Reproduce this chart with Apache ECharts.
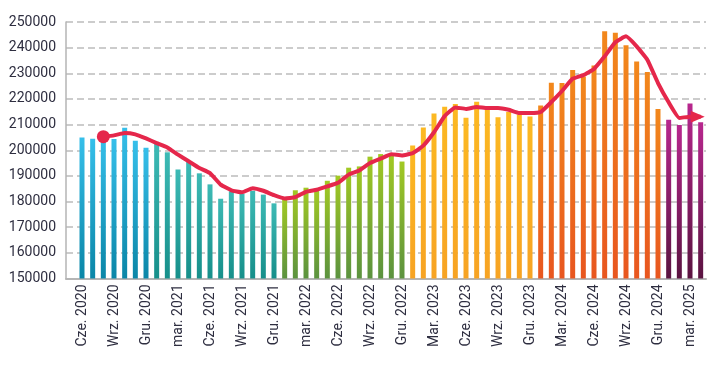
<!DOCTYPE html>
<html>
<head>
<meta charset="utf-8">
<script src="https://cdn.jsdelivr.net/npm/echarts@6/dist/echarts.min.js"></script>
<style>
  html, body { margin: 0; padding: 0; background: #fff; }
  #chart { width: 716px; height: 376px; }
</style>
</head>
<body>
<div id="chart"></div>
<script>
// miesiące: Cze. 2020 – Kwi. 2025 (pierwsza pusta kategoria to odstęp od osi)
var months = [
  "",
  "Cze. 2020", "Lip. 2020", "Sie. 2020", "Wrz. 2020", "Paź. 2020", "Lis. 2020", "Gru. 2020",
  "Sty. 2021", "Lut. 2021", "mar. 2021", "Kwi. 2021", "Maj. 2021", "Cze. 2021", "Lip. 2021",
  "Sie. 2021", "Wrz. 2021", "Paź. 2021", "Lis. 2021", "Gru. 2021",
  "Sty. 2022", "Lut. 2022", "mar. 2022", "Kwi. 2022", "Maj. 2022", "Cze. 2022", "Lip. 2022",
  "Sie. 2022", "Wrz. 2022", "Paź. 2022", "Lis. 2022", "Gru. 2022",
  "Sty. 2023", "Lut. 2023", "Mar. 2023", "Kwi. 2023", "Maj. 2023", "Cze. 2023", "Lip. 2023",
  "Sie. 2023", "Wrz. 2023", "Paź. 2023", "Lis. 2023", "Gru. 2023",
  "Sty. 2024", "Lut. 2024", "Mar. 2024", "Kwi. 2024", "Maj. 2024", "Cze. 2024", "Lip. 2024",
  "Sie. 2024", "Wrz. 2024", "Paź. 2024", "Lis. 2024", "Gru. 2024",
  "Sty. 2025", "Lut. 2025", "mar. 2025", "Kwi. 2025"
];

var monthly = [
  null,
  205000, 204500, 205000, 204400, 208800, 203700, 201000,
  202400, 199200, 192500, 195500, 191000, 186700, 181100,
  184000, 183000, 184200, 182700, 179300,
  181000, 184400, 185400, 184600, 188100, 190100, 193200,
  193700, 197500, 198500, 198100, 195600,
  201900, 208900, 214300, 217000, 218000, 212700, 218900,
  217100, 212900, 214900, 213900, 213200,
  217400, 226300, 226200, 231300, 228800, 233000, 246400,
  245800, 240900, 234600, 230500, 216100,
  211900, 209800, 218200, 210900
];

var trend = [
  null,
  null, null, 205300, 205800, 206700, 206200, 204600,
  202800, 201100, 198300, 195700, 193100, 191100, 186600,
  184400, 183600, 185200, 184200, 182500,
  181200, 181700, 183800, 184600, 185900, 187300, 190500,
  192100, 195000, 196700, 198400, 198000,
  198900, 201800, 207000, 213300, 216700, 216100, 216900,
  216500, 216500, 215800, 214500, 214500,
  214900, 218800, 223100, 227900, 229300, 231700, 236600,
  242100, 244400, 240500, 235300, 226200,
  218700, 212600, 213100, 213100
];

var yMin = 150000, yMax = 250000, yStep = 10000;

var yearColors = {
  "2020": ["#36bfea", "#0a86a7"],
  "2021": ["#3dbab5", "#168f8a"],
  "2022": ["#a2c923", "#5b923f"],
  "2023": ["#fcb922", "#f7a323"],
  "2024": ["#f2881c", "#e8561f"],
  "2025": ["#b8278e", "#5a1340"]
};

function barColor(label) {
  var c = yearColors[label.slice(-4)] || ["#ccc", "#ccc"];
  return new echarts.graphic.LinearGradient(0, 0, 0, 1, [
    { offset: 0, color: c[0] },
    { offset: 1, color: c[1] }
  ]);
}

var barData = monthly.map(function (v, i) {
  if (v == null) return null;
  return { value: v, itemStyle: { color: barColor(months[i]) } };
});

var firstIdx = trend.findIndex(function (v) { return v != null; });
var lastIdx = trend.length - 1;
var lineData = trend.map(function (v, i) {
  if (v == null) return null;
  if (i === firstIdx) return { value: v, symbol: "circle", symbolSize: 13 };
  if (i === lastIdx) return { value: v, symbol: "triangle", symbolSize: [12, 14], symbolRotate: -90, symbolOffset: [-3, 0] };
  return { value: v, symbol: "none" };
});

var myChart = echarts.init(document.getElementById("chart"));
var option = {
  backgroundColor: "#fff",
  animation: false,
  grid: { left: 66, right: 10, top: 22, bottom: 97.5 },
  xAxis: {
    type: "category",
    data: months,
    axisLine: { lineStyle: { color: "#b5b5b5", width: 2 } },
    axisTick: { show: false },
    axisLabel: {
      rotate: 90,
      margin: 6,
      color: "#2e2e40",
      fontFamily: "Roboto",
      fontSize: 14,
      interval: function (idx) { return idx > 0 && (idx - 1) % 3 === 0; }
    },
    splitLine: { show: false }
  },
  yAxis: {
    type: "value",
    min: yMin,
    max: yMax,
    interval: yStep,
    axisLine: { show: true, lineStyle: { color: "#b5b5b5", width: 1.5 } },
    axisTick: { show: false },
    axisLabel: {
      margin: 10,
      color: "#2e2e40",
      fontFamily: "Roboto",
      fontSize: 14,
      formatter: function (v) { return String(v); }
    },
    splitLine: {
      lineStyle: { type: [7, 4], color: "#bcbcbc", width: 1.5 }
    }
  },
  series: [
    {
      name: "miesięcznie",
      type: "bar",
      data: barData,
      barWidth: 5
    },
    {
      name: "trend",
      type: "line",
      data: lineData,
      smooth: 0.12,
      connectNulls: false,
      lineStyle: { color: "#e5274b", width: 4, join: "round" },
      itemStyle: { color: "#e5274b" },
      z: 5
    }
  ]
};
window.onresize = function () {
  myChart.resize();
};
myChart.setOption(option);
</script>
</body>
</html>
